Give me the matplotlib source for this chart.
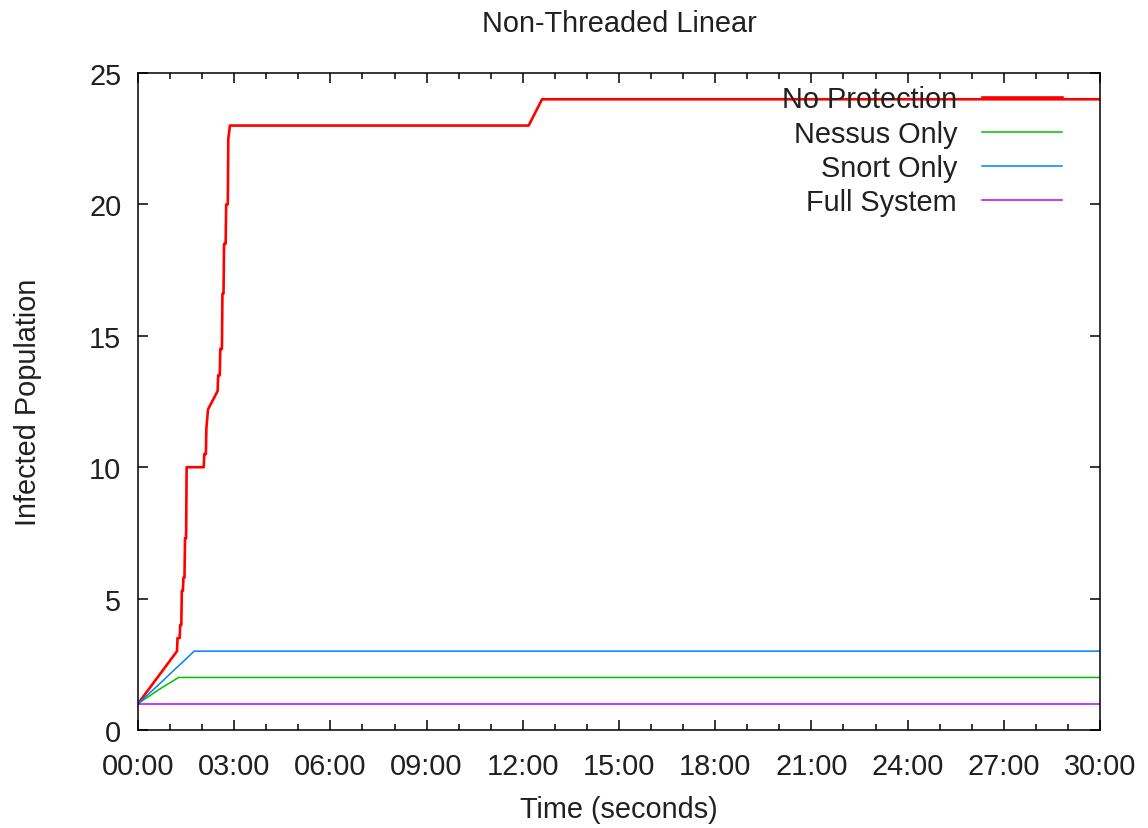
"""
Non-Threaded Linear: infected population over time for the four setups.
"""

import matplotlib
matplotlib.use("Agg")
import matplotlib.pyplot as plt
from matplotlib.ticker import FuncFormatter, MultipleLocator

plt.rcParams["font.family"] = ["Liberation Sans", "DejaVu Sans"]

# ----- datos (tiempo en segundos) -----

no_prot_t = [0, 73, 74, 78, 79, 81, 82, 84, 85, 87, 88, 90, 91, 123, 124, 127,
             128, 131, 149, 150, 153, 154, 157, 158, 160, 161, 164, 165, 168,
             169, 172, 731, 756, 1800]
no_prot_y = [1, 3, 3.5, 3.5, 4, 4, 5.3, 5.3, 5.8, 5.8, 7.3, 7.3, 10, 10, 10.5,
             10.5, 11.5, 12.2, 12.9, 13.5, 13.5, 14.5, 14.5, 16.6, 16.6, 18.5,
             18.5, 20, 20, 22.5, 23, 23, 24, 24]

nessus_t = [0, 40, 76, 1800]
nessus_y = [1, 1.55, 2, 2]

snort_t = [0, 40, 79, 82, 105, 1800]
snort_y = [1, 1.75, 2.5, 2.55, 3, 3]

full_t = [0, 1800]
full_y = [1, 1]

series = [
    ("No Protection", no_prot_t, no_prot_y, "#ff0000", 1.9),
    ("Nessus Only",   nessus_t,  nessus_y,  "#00c000", 1.1),
    ("Snort Only",    snort_t,   snort_y,   "#0080ff", 1.1),
    ("Full System",   full_t,    full_y,    "#c000ff", 1.1),
]

FS = 20.8
TXT = "#202020"


def mmss(v, _pos):
    v = int(round(v))
    return f"{v // 60:02d}:{v % 60:02d}"


fig = plt.figure(figsize=(11.48, 8.29), dpi=100)
ax = fig.add_axes([138 / 1148, 1 - 731 / 829, 962 / 1148, 657 / 829])

for label, t, y, color, lw in series:
    ax.plot(t, y, color=color, linewidth=lw, label=label)

ax.set_xlim(0, 1800)
ax.set_ylim(0, 25)
ax.xaxis.set_major_locator(MultipleLocator(180))
ax.xaxis.set_minor_locator(MultipleLocator(60))
ax.xaxis.set_major_formatter(FuncFormatter(mmss))
ax.yaxis.set_major_locator(MultipleLocator(5))

ax.tick_params(which="both", direction="in", top=True, right=True,
               labelsize=FS, width=1.1, color="black", labelcolor=TXT)
ax.tick_params(which="major", length=7)
ax.tick_params(which="minor", length=4)
ax.tick_params(axis="x", which="major", pad=16)
ax.tick_params(axis="y", which="major", pad=12)
for sp in ax.spines.values():
    sp.set_linewidth(1.1)

ax.set_title("Non-Threaded Linear", fontsize=FS, color=TXT, pad=30)
ax.set_xlabel("Time (seconds)", fontsize=FS, color=TXT, labelpad=11)
ax.set_ylabel("Infected Population", fontsize=FS, color=TXT, labelpad=34)

leg = ax.legend(loc="upper right", bbox_to_anchor=(0.982, 1.012), frameon=False,
                markerfirst=False, fontsize=FS, handlelength=2.8,
                handletextpad=0.85, labelspacing=0.22, borderaxespad=0.3)
for txt in leg.get_texts():
    txt.set_color(TXT)

plt.savefig("out.png", dpi=100)
plt.close()
